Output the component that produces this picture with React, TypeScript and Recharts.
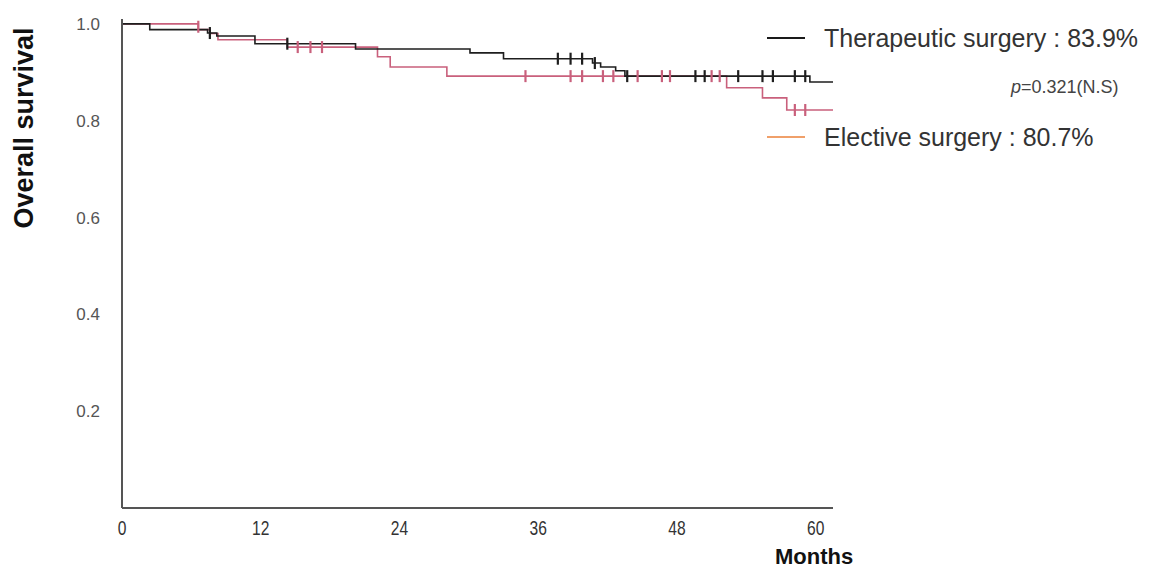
import { ComposedChart, Line, Scatter, XAxis, YAxis } from 'recharts';

const monthTicks = [0, 12, 24, 36, 48, 60];
const survivalTicks = [0.2, 0.4, 0.6, 0.8, 1.0];

// Kaplan-Meier steps (month, survival)
const therapeuticSteps = [
	{ m: 0, s: 1.0 },
	{ m: 2.4, s: 0.988 },
	{ m: 7.4, s: 0.981 },
	{ m: 8.2, s: 0.975 },
	{ m: 11.5, s: 0.959 },
	{ m: 20.2, s: 0.948 },
	{ m: 30.1, s: 0.94 },
	{ m: 33.0, s: 0.928 },
	{ m: 40.7, s: 0.919 },
	{ m: 41.4, s: 0.911 },
	{ m: 42.7, s: 0.903 },
	{ m: 43.5, s: 0.892 },
	{ m: 59.5, s: 0.88 },
	{ m: 61.5, s: 0.88 },
];

const electiveSteps = [
	{ m: 0, s: 1.0 },
	{ m: 6.6, s: 0.988 },
	{ m: 7.6, s: 0.98 },
	{ m: 8.3, s: 0.967 },
	{ m: 14.3, s: 0.952 },
	{ m: 22.1, s: 0.932 },
	{ m: 23.2, s: 0.911 },
	{ m: 28.1, s: 0.892 },
	{ m: 52.3, s: 0.868 },
	{ m: 55.4, s: 0.847 },
	{ m: 57.5, s: 0.822 },
	{ m: 61.5, s: 0.822 },
];

// censored observations
const therapeuticCensored = [
	{ m: 7.6, s: 0.981 },
	{ m: 14.3, s: 0.959 },
	{ m: 37.7, s: 0.928 },
	{ m: 38.8, s: 0.928 },
	{ m: 39.8, s: 0.928 },
	{ m: 40.9, s: 0.919 },
	{ m: 43.7, s: 0.892 },
	{ m: 49.6, s: 0.892 },
	{ m: 50.4, s: 0.892 },
	{ m: 53.3, s: 0.892 },
	{ m: 55.4, s: 0.892 },
	{ m: 56.3, s: 0.892 },
	{ m: 58.2, s: 0.892 },
	{ m: 59.1, s: 0.892 },
];

const electiveCensored = [
	{ m: 6.6, s: 0.994 },
	{ m: 15.2, s: 0.952 },
	{ m: 16.3, s: 0.952 },
	{ m: 17.3, s: 0.952 },
	{ m: 34.9, s: 0.892 },
	{ m: 38.8, s: 0.892 },
	{ m: 39.8, s: 0.892 },
	{ m: 41.6, s: 0.892 },
	{ m: 42.5, s: 0.892 },
	{ m: 44.6, s: 0.892 },
	{ m: 46.7, s: 0.892 },
	{ m: 47.4, s: 0.892 },
	{ m: 51.0, s: 0.892 },
	{ m: 51.7, s: 0.892 },
	{ m: 58.2, s: 0.822 },
	{ m: 59.1, s: 0.822 },
];

const legendItems = [
	{ label: 'Therapeutic surgery : 83.9%', color: '#1a1a1a', top: 30 },
	{ label: 'Elective surgery : 80.7%', color: '#f0a06a', top: 129 },
];

const BLACK = '#1e1e1e';
const PINK = '#c9607c';

const censorMark = (color: string) => (props: any) => {
	const { cx, cy } = props;
	return <line x1={cx} x2={cx} y1={cy - 6} y2={cy + 6} stroke={color} strokeWidth={2.2} />;
};

// narrow month labels like the original
const MonthTick = (props: any) => {
	const { x, y, payload } = props;
	return (
		<text
			transform={`translate(${x},${y}) scale(0.78,1)`}
			x={0}
			y={0}
			dy='0.71em'
			textAnchor='middle'
			fill='#333'
			fontSize={20}
		>
			{payload.value}
		</text>
	);
};

export default function App() {
	return (
		<div style={{ position: 'relative', width: 1142, height: 562, fontFamily: '"Liberation Sans", Arial, sans-serif' }}>
			<ComposedChart width={1142} height={554} margin={{ top: 11, right: 317, bottom: 0, left: 0 }}>
				<XAxis
					dataKey='m'
					type='number'
					domain={[0, 61.5]}
					ticks={monthTicks}
					height={54}
					stroke='#555'
					strokeWidth={2}
					tickLine={false}
					tickMargin={7}
					tick={<MonthTick />}
				/>
				<YAxis
					type='number'
					domain={[0, 1.01]}
					ticks={survivalTicks}
					width={114}
					stroke='#555'
					strokeWidth={2}
					tickLine={false}
					tickMargin={16}
					tickFormatter={(v: number) => v.toFixed(1)}
					tick={{ fill: '#555', fontSize: 17 }}
				/>
				<Line data={electiveSteps} dataKey='s' type='stepAfter' stroke={PINK} strokeWidth={1.6} dot={false} isAnimationActive={false} />
				<Line data={therapeuticSteps} dataKey='s' type='stepAfter' stroke={BLACK} strokeWidth={1.6} dot={false} isAnimationActive={false} />
				<Scatter data={electiveCensored} dataKey='s' shape={censorMark(PINK)} isAnimationActive={false} />
				<Scatter data={therapeuticCensored} dataKey='s' shape={censorMark(BLACK)} isAnimationActive={false} />
			</ComposedChart>

			<div
				style={{
					position: 'absolute',
					left: 16,
					top: 120,
					transform: 'translate(-50%, -50%) rotate(-90deg)',
					fontSize: 27,
					fontWeight: 'bold',
					color: '#111',
					whiteSpace: 'nowrap',
				}}
			>
				Overall survival
			</div>
			<div style={{ position: 'absolute', left: 767, top: 536, fontSize: 22, fontWeight: 'bold', color: '#111' }}>Months</div>

			{legendItems.map((item) => (
				<div key={item.label} style={{ position: 'absolute', left: 759, top: item.top - 16, height: 32, display: 'flex', alignItems: 'center' }}>
					<div style={{ width: 38, height: 2, background: item.color, marginRight: 19 }} />
					<span style={{ fontSize: 25, color: '#333', whiteSpace: 'nowrap' }}>{item.label}</span>
				</div>
			))}
			<div style={{ position: 'absolute', left: 1003, top: 69, fontSize: 18, color: '#444', whiteSpace: 'nowrap' }}>
				<i>p</i>=0.321(N.S)
			</div>
		</div>
	);
}
